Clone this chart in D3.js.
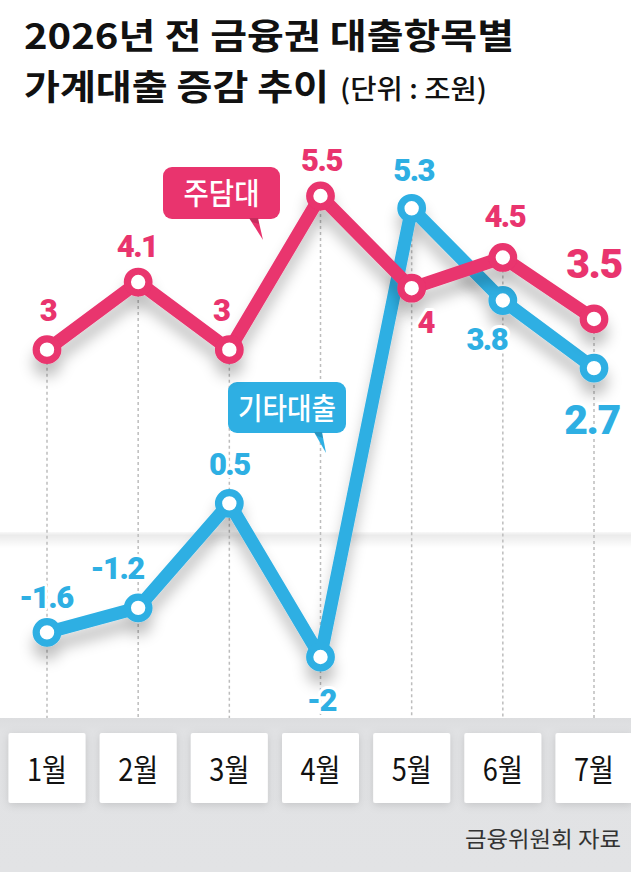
<!DOCTYPE html>
<html><head><meta charset="utf-8">
<script src="https://cdn.jsdelivr.net/npm/d3@7"></script>
<style>
body{margin:0;background:#fff;}
svg{display:block;}
</style>
</head><body>
<script>
// ---- data ----
const months = ["1월","2월","3월","4월","5월","6월","7월"];
const mortgage = [3, 4.1, 3, 5.5, 4, 4.5, 3.5];      // 주담대
const otherLoans = [-1.6, -1.2, 0.5, -2, 5.3, 3.8, 2.7]; // 기타대출
const mortgageLabels = ["3","4.1","3","5.5","4","4.5","3.5"];
const otherLabels = ["-1.6","-1.2","0.5","-2","5.3","3.8","2.7"];
const seriesNames = ["주담대","기타대출"];
const titleLine1 = "2026년 전 금융권 대출항목별";
const titleLine2 = "가계대출 증감 추이";
const unitText = "(단위 : 조원)";
const sourceText = "금융위원회 자료";

// ---- layout / style ----
const W = 631, H = 872;
const PINK = "#e9346e", BLUE = "#2eafe3";
const mortgageLabelOffsets = [[1,-40],[-1,-36],[-8,-40],[1,-36],[14,34],[2,-42],[0,-56]];
const otherLabelOffsets = [[-1,-36],[-21,-40],[0,-39],[1,43],[2,-38],[-16,38],[-2,51]];
const bigLabelIndex = 6;

const svg = d3.select("body").append("svg").attr("width", W).attr("height", H);
const defs = svg.append("defs");

const sh = defs.append("filter").attr("id","lineShadow")
  .attr("filterUnits","userSpaceOnUse").attr("x",-50).attr("y",0).attr("width",W+100).attr("height",H);
sh.append("feDropShadow").attr("dx",0).attr("dy",13).attr("stdDeviation",7)
  .attr("flood-color","#000").attr("flood-opacity",0.24);

const bs = defs.append("filter").attr("id","boxShadow")
  .attr("x","-30%").attr("y","-30%").attr("width","160%").attr("height","160%");
bs.append("feDropShadow").attr("dx",0).attr("dy",2).attr("stdDeviation",4)
  .attr("flood-color","#000").attr("flood-opacity",0.13);

const zg = defs.append("linearGradient").attr("id","zeroGrad").attr("x1",0).attr("x2",0).attr("y1",0).attr("y2",1);
zg.append("stop").attr("offset",0).attr("stop-color","#000").attr("stop-opacity",0.03);
zg.append("stop").attr("offset",0.2).attr("stop-color","#000").attr("stop-opacity",0.08);
zg.append("stop").attr("offset",1).attr("stop-color","#000").attr("stop-opacity",0);

const bandG = defs.append("linearGradient").attr("id","bandGrad").attr("x1",0).attr("x2",0).attr("y1",0).attr("y2",1);
bandG.append("stop").attr("offset",0).attr("stop-color","#dcdddf");
bandG.append("stop").attr("offset",0.1).attr("stop-color","#e1e2e4");
bandG.append("stop").attr("offset",1).attr("stop-color","#e2e3e5");

// ---- scales ----
const x = d3.scalePoint().domain(months).range([47, 594]);
const y = d3.scaleLinear().domain([-2, 5.5]).range([657, 196]);
const bandTop = 718;

// ---- title ----
function fit(sel, w){ sel.attr("textLength", w).attr("lengthAdjust","spacingAndGlyphs"); return sel; }
fit(svg.append("text").attr("x",24).attr("y",49)
  .attr("font-family","'Noto Sans CJK KR', sans-serif").attr("font-weight",700)
  .attr("font-size",35).attr("fill","#111").text(titleLine1), 490);
fit(svg.append("text").attr("x",24).attr("y",100)
  .attr("font-family","'Noto Sans CJK KR', sans-serif").attr("font-weight",700)
  .attr("font-size",35).attr("fill","#111").text(titleLine2), 305);
fit(svg.append("text").attr("x",340).attr("y",99)
  .attr("font-family","'Noto Sans CJK KR', sans-serif").attr("font-weight",500)
  .attr("font-size",27).attr("fill","#111").text(unitText), 147);

// ---- zero line soft fold ----
svg.append("rect").attr("x",0).attr("y",y(0)-2).attr("width",W).attr("height",16)
  .attr("fill","url(#zeroGrad)");

// ---- dashed verticals ----
svg.append("g").selectAll("line").data(months).join("line")
  .attr("x1", d => x(d)).attr("x2", d => x(d))
  .attr("y1", (d,i) => y(Math.max(mortgage[i], otherLoans[i])))
  .attr("y2", bandTop)
  .attr("stroke","#bdbdbd").attr("stroke-width",1.5).attr("stroke-dasharray","3,3");

// ---- bottom band ----
svg.append("rect").attr("x",0).attr("y",bandTop).attr("width",W).attr("height",H-bandTop)
  .attr("fill","url(#bandGrad)");
const mg = svg.append("g").selectAll("g").data(months).join("g");
mg.append("rect").attr("x", d => x(d)-38.5).attr("y",733).attr("width",77).attr("height",70)
  .attr("rx",2).attr("fill","#fff").attr("filter","url(#boxShadow)");
mg.append("text").attr("x", d => x(d)).attr("y",781).attr("text-anchor","middle")
  .attr("font-family","'Noto Sans CJK KR', sans-serif").attr("font-weight",400)
  .attr("font-size",31).attr("fill","#111").attr("textLength",40).attr("lengthAdjust","spacingAndGlyphs")
  .text(d => d);
svg.append("text").attr("x",621).attr("y",847).attr("text-anchor","end")
  .attr("font-family","'Noto Sans CJK KR', sans-serif").attr("font-weight",400)
  .attr("font-size",22).attr("fill","#333").attr("textLength",156).attr("lengthAdjust","spacingAndGlyphs")
  .text(sourceText);

// ---- callouts ----
function callout(cfg){
  const g = svg.append("g");
  g.append("rect").attr("x",cfg.bx).attr("y",cfg.by).attr("width",cfg.bw).attr("height",cfg.bh)
    .attr("rx",9).attr("fill",cfg.color);
  g.append("path").attr("d", d3.line()(cfg.tail) + "Z").attr("fill",cfg.color);
  g.append("path").attr("d", d3.line()([cfg.tail[0],cfg.tail[1],[cfg.tail[1][0]+1,cfg.tail[1][1]+6],[cfg.tail[0][0]+3,cfg.tail[0][1]+4]])+"Z")
    .attr("fill","#000").attr("opacity",0.15);
  g.append("text").attr("x",cfg.bx+cfg.bw/2).attr("y",cfg.by+cfg.bh/2+11).attr("text-anchor","middle")
    .attr("font-family","'Noto Sans CJK KR', sans-serif").attr("font-weight",500)
    .attr("font-size",30).attr("fill","#fff")
    .attr("textLength",cfg.tl).attr("lengthAdjust","spacingAndGlyphs").text(cfg.text);
}
callout({text:seriesNames[0], color:PINK, bx:163, by:167, bw:117, bh:52, tl:76,
  tail:[[249,218],[258,218],[263,240]]});
callout({text:seriesNames[1], color:BLUE, bx:228, by:382, bw:118, bh:51, tl:98,
  tail:[[314,432],[322,432],[326,453]]});

// ---- lines ----
const line = d3.line().x((d,i) => x(months[i])).y(d => y(d));
function drawSeries(vals, color){
  const g = svg.append("g").attr("filter","url(#lineShadow)");
  g.append("path").datum(vals).attr("d", line).attr("fill","none")
    .attr("stroke",color).attr("stroke-width",13).attr("stroke-linejoin","round").attr("stroke-linecap","round");
  g.selectAll("circle").data(vals).join("circle")
    .attr("cx",(d,i) => x(months[i])).attr("cy", d => y(d)).attr("r",10.8)
    .attr("fill","#fff").attr("stroke",color).attr("stroke-width",7.2);
}
drawSeries(otherLoans, BLUE);
drawSeries(mortgage, PINK);

// ---- value labels ----
function drawLabels(vals, labels, offs, color){
  svg.append("g").selectAll("text").data(vals).join("text")
    .attr("x",(d,i) => x(months[i]) + offs[i][0])
    .attr("y",(d,i) => y(d) + offs[i][1])
    .attr("dy", "0.36em")
    .attr("text-anchor","middle")
    .attr("font-family","Roboto, sans-serif").attr("font-weight",900)
    .attr("font-size",(d,i) => i === bigLabelIndex ? 41 : 31)
    .attr("letter-spacing",-1.5)
    .attr("fill",color).attr("stroke","#fff").attr("stroke-width",6)
    .attr("stroke-linejoin","round").attr("paint-order","stroke")
    .text((d,i) => labels[i]);
}
drawLabels(otherLoans, otherLabels, otherLabelOffsets, BLUE);
drawLabels(mortgage, mortgageLabels, mortgageLabelOffsets, PINK);
</script>
</body></html>
